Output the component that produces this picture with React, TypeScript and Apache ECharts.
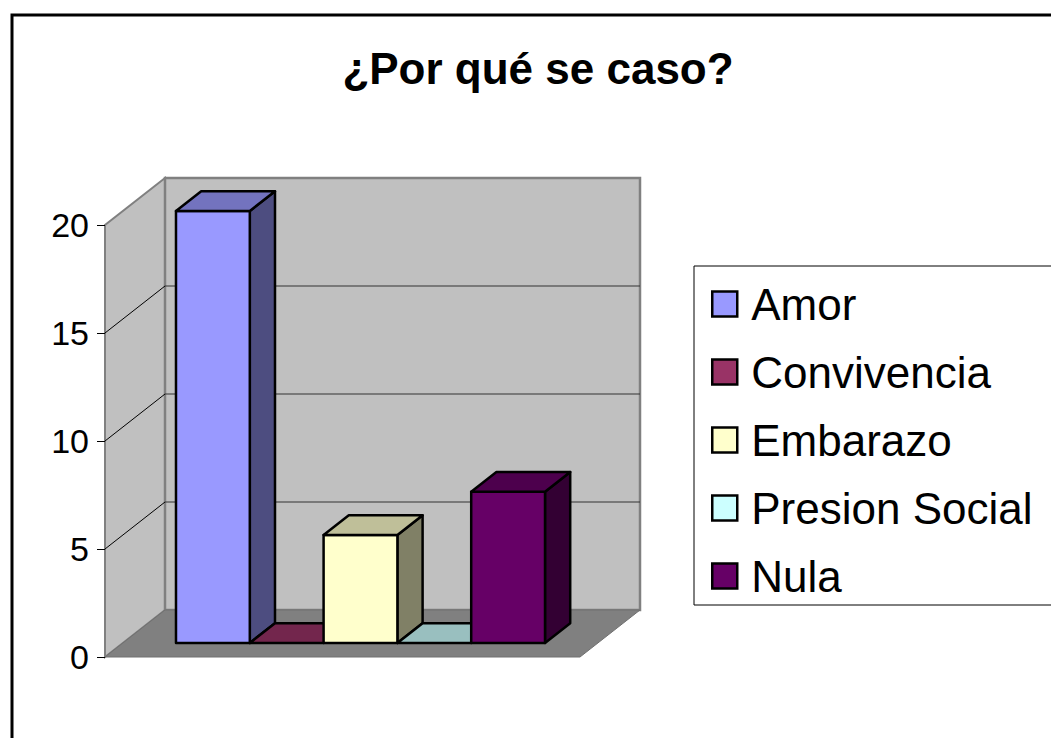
import React, { useEffect, useRef } from 'react';
import * as echarts from 'echarts';

// ---- data ----
const categories = ['Amor', 'Convivencia', 'Embarazo', 'Presion Social', 'Nula'];
const values = [20, 0, 5, 0, 7];
const colors = ['#9999FF', '#993366', '#FFFFCC', '#CCFFFF', '#660066'];
const yTicks = [0, 5, 10, 15, 20];
const chartTitle = '¿Por qué se caso?';

// ---- layout constants ----
const X_MIN = -0.718;
const X_MAX = 5.718;
const Y_MAX = 20;
const DEPTH = [60, -47];
const BAR_FRONT = 0.3;
const BAR_BACK = 0.72;
const FONT = '"Liberation Sans", Arial, sans-serif';

function shade(hex: string, f: number): string {
  const n = parseInt(hex.slice(1), 16);
  const r = Math.round(((n >> 16) & 255) * f);
  const g = Math.round(((n >> 8) & 255) * f);
  const b = Math.round((n & 255) * f);
  return 'rgb(' + r + ',' + g + ',' + b + ')';
}

export default function App() {
  const ref = useRef<HTMLDivElement>(null);
  useEffect(() => {
    if (!ref.current) return;
    const chart = echarts.init(ref.current, null, { renderer: 'svg' });
    const [dx, dy] = DEPTH;

    const wallSeries: any = {
      type: 'custom',
      name: '__walls',
      silent: true,
      clip: false,
      z: 1,
      data: [[0, 0]],
      renderItem: (_p: any, api: any) => {
        const fl = api.coord([X_MIN, 0]);
        const fr = api.coord([X_MAX, 0]);
        const tl = api.coord([X_MIN, Y_MAX]);
        const bl = [fl[0] + dx, fl[1] + dy];
        const br = [fr[0] + dx, fr[1] + dy];
        const btl = [tl[0] + dx, tl[1] + dy];
        const children: any[] = [];
        children.push({
          type: 'polygon',
          shape: { points: [fl, tl, btl, bl] },
          style: { fill: '#C0C0C0', stroke: '#808080', lineWidth: 2 },
        });
        children.push({
          type: 'rect',
          shape: { x: btl[0], y: btl[1], width: br[0] - bl[0], height: bl[1] - btl[1] },
          style: { fill: '#C0C0C0', stroke: '#808080', lineWidth: 2.5 },
        });
        yTicks.forEach((t) => {
          if (t === 0 || t === Y_MAX) return;
          const p = api.coord([X_MIN, t]);
          const q = [p[0] + dx, p[1] + dy];
          children.push({
            type: 'line',
            shape: { x1: p[0], y1: p[1], x2: q[0], y2: q[1] },
            style: { stroke: '#000', lineWidth: 1 },
          });
          children.push({
            type: 'line',
            shape: { x1: q[0], y1: q[1], x2: br[0], y2: q[1] },
            style: { stroke: '#333', lineWidth: 1.2 },
          });
        });
        children.push({
          type: 'polygon',
          shape: { points: [fl, fr, br, bl] },
          style: { fill: '#808080', stroke: '#707070', lineWidth: 1 },
        });
        return { type: 'group', children };
      },
    };

    const barSeries: any[] = categories.map((name, i) => ({
      type: 'custom',
      name,
      clip: false,
      z: 2 + i,
      itemStyle: { color: colors[i], borderColor: '#000', borderWidth: 2 },
      data: [[i, values[i]]],
      renderItem: (_p: any, api: any) => {
        const x0 = api.value(0);
        const v = api.value(1);
        const p0 = api.coord([x0, 0]);
        const p1 = api.coord([x0 + 1, v]);
        const fx = BAR_FRONT * dx, fy = BAR_FRONT * dy;
        const bx = BAR_BACK * dx, by = BAR_BACK * dy;
        const L = p0[0], R = p1[0], B = p0[1], T = p1[1];
        const c = colors[i];
        const st = { stroke: '#000', lineWidth: 2.5, lineJoin: 'round' };
        const children: any[] = [];
        if (B - T > 0.5) {
          children.push({
            type: 'polygon',
            shape: { points: [[R + fx, T + fy], [R + fx, B + fy], [R + bx, B + by], [R + bx, T + by]] },
            style: { fill: shade(c, 0.5), ...st },
          });
          children.push({
            type: 'rect',
            shape: { x: L + fx, y: T + fy, width: R - L, height: B - T },
            style: { fill: c, ...st },
          });
        }
        children.push({
          type: 'polygon',
          shape: { points: [[L + fx, T + fy], [R + fx, T + fy], [R + bx, T + by], [L + bx, T + by]] },
          style: { fill: shade(c, 0.75), ...st },
        });
        return { type: 'group', children };
      },
    }));

    chart.setOption({
      animation: false,
      backgroundColor: '#fff',
      grid: { left: 105, right: 471, top: 225, bottom: 81 },
      xAxis: { type: 'value', min: X_MIN, max: X_MAX, show: false },
      yAxis: {
        type: 'value',
        min: 0,
        max: Y_MAX,
        interval: 5,
        z: 10,
        axisLine: { show: false, onZero: false },
        axisTick: { show: true, length: 8, lineStyle: { color: '#000', width: 1 } },
        axisLabel: { fontSize: 34, color: '#000', margin: 16, fontFamily: FONT },
        splitLine: { show: false },
      },
      legend: {
        orient: 'vertical',
        left: 694,
        top: 266,
        padding: [15, 40, 6, 17],
        borderColor: '#000',
        borderWidth: 1,
        backgroundColor: '#fff',
        itemWidth: 25,
        itemHeight: 25,
        itemGap: 22,
        icon: 'rect',
        selectedMode: false,
        textStyle: { fontSize: 44, color: '#000', fontFamily: FONT, lineHeight: 46, padding: [0, 0, 0, 9] },
        data: categories.map((name, i) => ({
          name,
          itemStyle: { color: colors[i], borderColor: '#000', borderWidth: 2.5 },
        })),
      },
      graphic: [
        {
          type: 'rect',
          shape: { x: 12, y: 15, width: 1200, height: 900 },
          style: { fill: 'none', stroke: '#000', lineWidth: 3 },
          silent: true,
        },
        {
          type: 'text',
          x: 538,
          y: 68,
          style: {
            text: chartTitle,
            font: 'bold 44px ' + FONT,
            fill: '#000',
            textAlign: 'center',
            textVerticalAlign: 'middle',
          },
        },
      ],
      series: [wallSeries, ...barSeries],
    });
    return () => chart.dispose();
  }, []);
  return <div ref={ref} style={{ position: 'absolute', left: 0, top: 0, width: 1051, height: 738 }} />;
}
